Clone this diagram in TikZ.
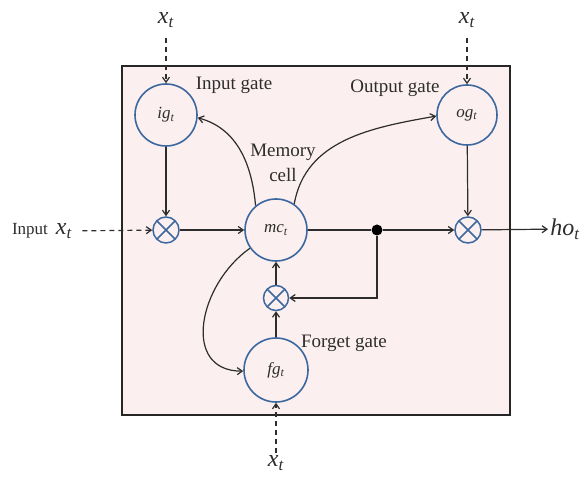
\documentclass[tikz,border=0pt]{standalone}
\usepackage{fontspec}
\setmainfont{Liberation Serif}
\usetikzlibrary{arrows.meta}
\definecolor{bg}{RGB}{252,239,239}
\definecolor{cblue}{RGB}{60,104,160}
\definecolor{txt}{RGB}{45,45,45}
\newcommand{\vx}[2]{\textit{#1}\textsubscript{\textit{#2}}}
\begin{document}
\begin{tikzpicture}[x=1pt,y=1pt,
 gate/.style={circle, draw=cblue, line width=1.6pt, fill=bg, minimum size=62pt, inner sep=0pt, font=\fontsize{17}{20}\selectfont, text=txt},
 mult/.style={circle, draw=cblue, line width=1.5pt, fill=bg, minimum size=26pt, inner sep=0pt,
   path picture={\draw[cblue, line width=1.5pt] (path picture bounding box.north west) -- (path picture bounding box.south east)
     (path picture bounding box.north east) -- (path picture bounding box.south west);}},
 conn/.style={draw=txt, line width=1.2pt, -{Straight Barb[length=5pt,width=7pt]}},
 dconn/.style={conn, dash pattern=on 5pt off 4pt},
 lbl/.style={font=\fontsize{19}{22}\selectfont, text=txt, inner sep=0pt},
 var/.style={font=\fontsize{24}{28}\selectfont, text=txt, inner sep=2pt},
 ]
\useasboundingbox (0,0) rectangle (586,482);
\fill[white] (0,0) rectangle (586,482);
\draw[fill=bg, line width=1.6pt, draw=black!85] (122,67) rectangle (510,416);

\node[gate] (ig) at (166,367) {\vx{ig}{t}};
\node[gate, minimum size=60pt] (og) at (467,367) {\vx{og}{t}};
\node[gate] (mc) at (276,252) {\vx{mc}{t}};
\node[gate, minimum size=64pt] (fg) at (276,112) {\vx{fg}{t}};
\node[mult] (m1) at (166,252) {};
\node[mult] (m3) at (468,252) {};
\node[mult, minimum size=25pt] (m2) at (276,184) {};
\node[circle, fill=black, minimum size=11pt, inner sep=0pt] (dot) at (377,252) {};

\node[var] (xtl) at (166,462) {\vx{x}{t}};
\node[var] (xtr) at (467,462) {\vx{x}{t}};
\node[var] (xb) at (276,19) {\vx{x}{t}};
\node[lbl, font=\fontsize{17}{20}\selectfont] (inp) at (30,251) {Input};
\node[var] (xin) at (64,251) {\vx{x}{t}};
\node[var] (ho) at (565,253) {\vx{ho}{t}};

\node[lbl] (lig) at (234,397) {Input gate};
\node[lbl] (log) at (395,394) {Output gate};
\node[lbl] (lmem) at (283,330) {Memory};
\node[lbl] (lcell) at (283,307) {cell};
\node[lbl] (lfg) at (344,139) {Forget gate};

\draw[dconn, shorten <=8pt] (xtl) -- (ig);
\draw[dconn, shorten <=8pt] (xtr) -- (og);
\draw[dconn, shorten <=8pt] (xin) -- (m1);
\draw[dconn] (xb) -- (fg);
\draw[conn] (ig) -- (m1);
\draw[conn] (m1) -- (mc);
\draw[draw=txt, line width=1.2pt] (mc) -- (dot);
\draw[conn] (dot) -- (m3);
\draw[conn] (og) -- (m3);
\draw[conn] (m3) -- (ho);
\draw[conn] (dot) |- (m2);
\draw[conn] (m2) -- (mc);
\draw[conn] (fg) -- (m2);
\draw[conn] (mc.130) to[out=95, in=-15] (ig.-5);
\draw[conn] (mc.55) to[out=80, in=190] (og.182);
\draw[conn] (mc.215) to[out=215, in=180, looseness=1.3] (fg.182);
\end{tikzpicture}
\end{document}
